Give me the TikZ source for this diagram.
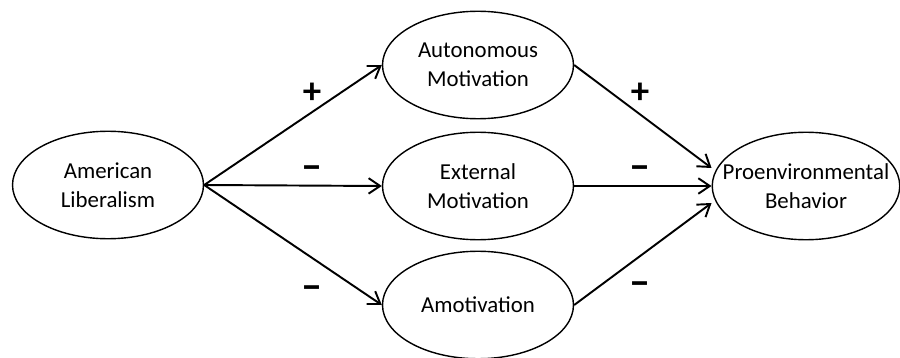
\documentclass[tikz,border=0pt]{standalone}
\usepackage{fontspec}
\setmainfont{Carlito}
\usepackage{tikz}
\usetikzlibrary{shapes,arrows,positioning,calc,arrows.meta}

\begin{document}
\begin{tikzpicture}[x=0.02cm, y=-0.02cm,
    construct/.style={draw, ellipse, line width=0.8pt, inner sep=0pt, minimum width=3.82cm, minimum height=2.15cm, align=center, font=\fontsize{13}{16.5}\selectfont},
    path/.style={->, line width=1.1pt},
    sign/.style={font=\bfseries\fontsize{21}{21}\selectfont, inner sep=0pt},
    neg/.style={sign, font=\bfseries\fontsize{24}{24}\selectfont},
    >={Straight Barb[length=2.3mm, width=3.1mm, line width=1.1pt]}]
    \useasboundingbox (0,0) rectangle (900,358);

    \node[construct] (lib) at (108,185) {American\\Liberalism};
    \node[construct] (auto) at (478,65) {Autonomous\\Motivation};
    \node[construct] (ext) at (478,186) {External\\Motivation};
    \node[construct] (amot) at (478,305) {Amotivation};
    \node[construct, minimum width=3.64cm, inner xsep=-0.34cm] (pro) at (806,186) {Proenvironmental\\Behavior};

    \coordinate (proA) at ($(pro.west)+(0,-18)$);
    \coordinate (proB) at ($(pro.west)+(0,17)$);

    \draw[path] (lib.east) -- (auto.west);
    \draw[path] (lib.east) -- (ext.west);
    \draw[path] (lib.east) -- (amot.west);

    \draw[path] (auto.east) -- (proA);
    \draw[path] (ext.east) -- (pro.west);
    \draw[path] (amot.east) -- (proB);

    % signs
    \node[sign] (s1) at (312,93) {+};
    \node[neg] (s2) at (312,173) {–};
    \node[neg] (s3) at (312,293) {–};
    \node[sign] (s4) at (640,93) {+};
    \node[neg] (s5) at (640,173) {–};
    \node[neg] (s6) at (640,289) {–};
\end{tikzpicture}
\end{document}
